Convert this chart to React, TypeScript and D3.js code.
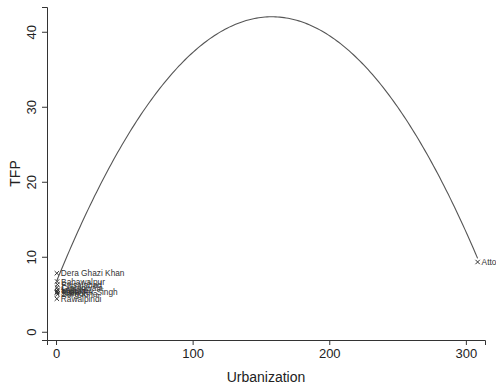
import { useEffect, useRef } from 'react';
import * as d3 from 'd3';

// districts plotted as markers with labels
const districts = [
  'Dera Ghazi Khan', 'Bahawalpur', 'Faisalabad', 'Gujranwala', 'Lahore',
  'Multan', 'Sialkot', 'Sargodha', 'Toba Tek Singh', 'Rawalpindi', 'Attock',
];
const urbanization = [0.6, 0.8, 1.0, 0.7, 1.2, 0.9, 0.5, 1.1, 0.8, 0.6, 308.6];
const tfp = [7.8, 6.7, 6.3, 5.9, 5.6, 5.4, 5.2, 5.0, 5.3, 4.4, 9.3];

// quadratic fit coefficients: b0 + b1*x + b2*x^2
const fitCoef = [6.55, 0.4487, -0.00142];

const xTicks = [0, 100, 200, 300];
const yTicks = [0, 10, 20, 30, 40];

function App() {
  const ref = useRef<SVGSVGElement>(null);

  useEffect(() => {
    const svg = d3.select(ref.current);
    svg.selectAll('*').remove();
    const font = '"Liberation Sans", Arial, sans-serif';

    const x = d3.scaleLinear().domain([-6.6, 314]).range([47, 485]);
    const y = d3.scaleLinear().domain([-1.1, 43.3]).range([340, 7]);

    // axes
    const xAxis = svg.append('g').attr('transform', 'translate(0,340)')
      .call(d3.axisBottom(x).tickValues(xTicks).tickSize(5).tickPadding(4));
    const yAxis = svg.append('g').attr('transform', 'translate(47,0)')
      .call(d3.axisLeft(y).tickValues(yTicks).tickSize(5).tickPadding(4));
    [xAxis, yAxis].forEach((a) => {
      a.select('.domain').attr('stroke', '#333').attr('stroke-width', 1);
      a.selectAll('.tick line').attr('stroke', '#333');
      a.selectAll('text').attr('font-family', font).attr('font-size', 13).attr('fill', '#222');
    });
    // stata style: y tick labels rotated
    yAxis.selectAll('.tick text')
      .attr('text-anchor', 'middle')
      .attr('transform', 'rotate(-90)')
      .attr('x', 0).attr('y', -11).attr('dy', 0);

    svg.append('text')
      .attr('transform', `translate(20,${(7 + 340) / 2}) rotate(-90)`)
      .attr('text-anchor', 'middle')
      .attr('font-family', font).attr('font-size', 14).attr('fill', '#222')
      .text('TFP');
    svg.append('text')
      .attr('x', (47 + 485) / 2).attr('y', 382)
      .attr('text-anchor', 'middle')
      .attr('font-family', font).attr('font-size', 14).attr('fill', '#222')
      .text('Urbanization');

    // fitted quadratic over the range of urbanization
    const [xmin, xmax] = d3.extent(urbanization) as [number, number];
    const xs = d3.range(xmin, xmax, (xmax - xmin) / 200).concat([xmax]);
    const line = d3.line<number>()
      .x((d) => x(d))
      .y((d) => y(fitCoef[0] + fitCoef[1] * d + fitCoef[2] * d * d));
    svg.append('path').datum(xs)
      .attr('d', line)
      .attr('fill', 'none').attr('stroke', '#555').attr('stroke-width', 1.1);

    // markers
    const pts = svg.append('g');
    districts.forEach((name, i) => {
      const cx = x(urbanization[i]);
      const cy = y(tfp[i]);
      const s = 2.2;
      pts.append('path')
        .attr('d', `M${cx - s},${cy - s}L${cx + s},${cy + s}M${cx - s},${cy + s}L${cx + s},${cy - s}`)
        .attr('stroke', '#333').attr('stroke-width', 1);
      pts.append('text')
        .attr('x', cx + 4).attr('y', cy + 3)
        .attr('font-family', font).attr('font-size', 8.3).attr('fill', '#333')
        .text(name);
    });
  }, []);

  return (
    <div style={{ position: 'fixed', left: 0, top: 0 }}>
      <svg ref={ref} width={496} height={387} style={{ display: 'block', background: '#fff' }} />
    </div>
  );
}

export default App;
